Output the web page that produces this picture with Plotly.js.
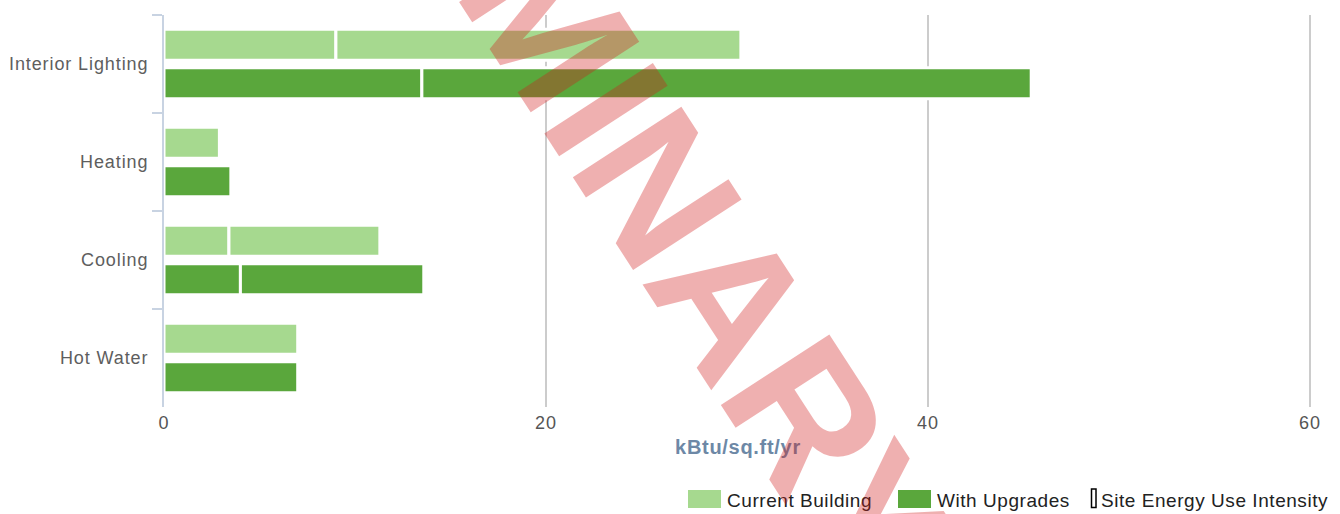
<!DOCTYPE html>
<html>
<head>
<meta charset="utf-8">
<script src="https://cdn.plot.ly/plotly-3.0.1.min.js"></script>
<style>
  html, body { margin: 0; padding: 0; background: #fff; }
  #chart { width: 1340px; height: 514px; }
  #chart .ytick text { letter-spacing: 0.9px; }
  #chart .xtick text { letter-spacing: 1px; }
  #chart .g-xtitle text { letter-spacing: 0.7px; }
  #chart .annotation:not([data-index="3"]) .annotation-text { letter-spacing: 0.55px; }
</style>
</head>
<body>
<div id="chart"></div>
<script>
// ---- data ----
var categories = ['Interior Lighting', 'Heating', 'Cooling', 'Hot Water'];
var currentPart1 = [9.0, 2.9, 3.4, 7.0];
var currentPart2 = [21.2, null, 7.9, null];
var upgradesPart1 = [13.5, 3.5, 4.0, 7.0];
var upgradesPart2 = [31.9, null, 9.6, null];
var xTickValues = [0, 20, 40, 60];
var seriesNames = ['Current Building', 'With Upgrades', 'Site Energy Use Intensity'];
var xTitle = 'kBtu/sq.ft/yr';
var watermarkText = 'PRELIMINARY';

// ---- styles ----
var lightGreen = '#a6d98f';
var darkGreen = '#5aa73c';
var FONT = 'Liberation Sans, Arial, sans-serif';
var W = 1340, H = 514;
var M = {l: 164, r: 28, t: 15, b: 107};
var PW = W - M.l - M.r, PH = H - M.t - M.b;
function px(x) { return (x - M.l) / PW; }
function py(y) { return (H - M.b - y) / PH; }

function sumParts(a, b) {
  return a.map(function (v, i) { return b[i] == null ? null : v; });
}

var barLine = {color: '#ffffff', width: 3};
var traces = [
  {type: 'bar', orientation: 'h', y: categories, x: currentPart1, name: seriesNames[0],
   offsetgroup: 'cur', marker: {color: lightGreen, line: barLine}},
  {type: 'bar', orientation: 'h', y: categories, x: currentPart2, base: sumParts(currentPart1, currentPart2),
   name: seriesNames[0], showlegend: false, offsetgroup: 'cur', marker: {color: lightGreen, line: barLine}},
  {type: 'bar', orientation: 'h', y: categories, x: upgradesPart1, name: seriesNames[1],
   offsetgroup: 'upg', marker: {color: darkGreen, line: barLine}},
  {type: 'bar', orientation: 'h', y: categories, x: upgradesPart2, base: sumParts(upgradesPart1, upgradesPart2),
   name: seriesNames[1], showlegend: false, offsetgroup: 'upg', marker: {color: darkGreen, line: barLine}}
];

// custom legend (swatches + labels)
var shapes = [
  {type: 'rect', xref: 'paper', yref: 'paper', x0: px(688), x1: px(721), y0: py(508), y1: py(490),
   fillcolor: lightGreen, line: {width: 0}},
  {type: 'rect', xref: 'paper', yref: 'paper', x0: px(898), x1: px(931), y0: py(508), y1: py(490),
   fillcolor: darkGreen, line: {width: 0}},
  {type: 'rect', xref: 'paper', yref: 'paper', x0: px(1091.5), x1: px(1096), y0: py(507.5), y1: py(489),
   fillcolor: '#ffffff', line: {color: '#000000', width: 1.5}}
];
var legendFont = {family: FONT, size: 19, color: '#222222'};
var annotations = [
  {xref: 'paper', yref: 'paper', x: px(725), y: py(500), xanchor: 'left', yanchor: 'middle', align: 'left',
   text: seriesNames[0], showarrow: false, font: legendFont},
  {xref: 'paper', yref: 'paper', x: px(935), y: py(500), xanchor: 'left', yanchor: 'middle', align: 'left',
   text: seriesNames[1], showarrow: false, font: legendFont},
  {xref: 'paper', yref: 'paper', x: px(1099), y: py(500), xanchor: 'left', yanchor: 'middle', align: 'left',
   text: seriesNames[2], showarrow: false, font: legendFont},
  {xref: 'paper', yref: 'paper', x: px(556), y: py(32), xanchor: 'center', yanchor: 'middle',
   text: watermarkText, textangle: 57, showarrow: false,
   font: {family: FONT, size: 188, weight: 'bold', color: 'rgba(210,30,30,0.35)'}}
];

var layout = {
  width: W, height: H,
  margin: M,
  paper_bgcolor: '#ffffff', plot_bgcolor: '#ffffff',
  showlegend: false,
  barmode: 'group',
  bargap: 0.214,
  bargroupgap: 0.195,
  font: {family: FONT},
  xaxis: {
    range: [0, 60.1], tickvals: xTickValues, ticktext: xTickValues.map(String),
    showgrid: true, gridcolor: '#cccccc', gridwidth: 1.5,
    zeroline: false, showline: false, ticks: '',
    tickfont: {family: FONT, size: 18, color: '#555555'},
    ticklabelstandoff: 3,
    title: {text: xTitle, standoff: 7, font: {family: FONT, size: 20, weight: 'bold', color: '#6d88a6'}},
    fixedrange: true
  },
  yaxis: {
    type: 'category', categoryorder: 'array', categoryarray: categories,
    autorange: 'reversed',
    showline: true, linecolor: '#c8d3e2', linewidth: 2,
    ticks: 'outside', tickson: 'boundaries', ticklen: 10, tickwidth: 2, tickcolor: '#c8d3e2',
    ticklabelstandoff: 10,
    showgrid: false, zeroline: false,
    tickfont: {family: FONT, size: 18, color: '#5e5e5e'},
    fixedrange: true
  },
  shapes: shapes,
  annotations: annotations
};

Plotly.newPlot('chart', traces, layout, {displayModeBar: false, staticPlot: true});
</script>
</body>
</html>
